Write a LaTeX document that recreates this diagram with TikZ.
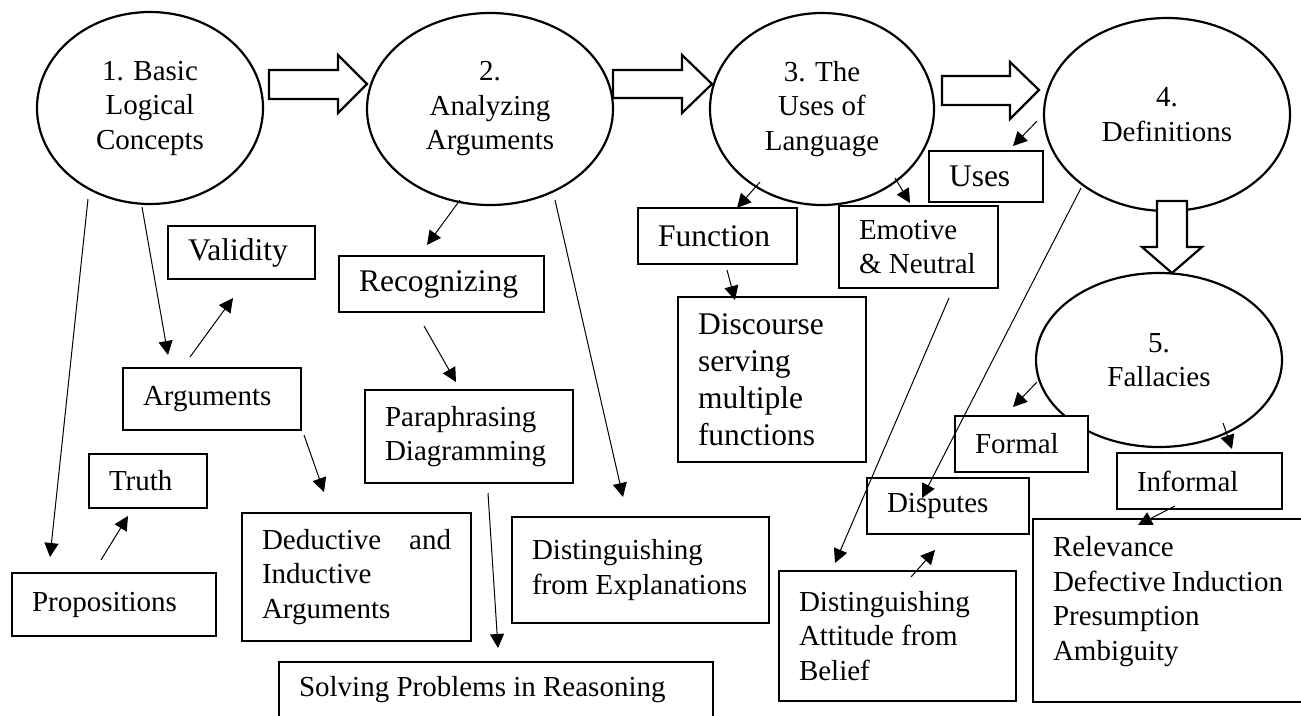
\documentclass[tikz,border=0pt]{standalone}
\usepackage{fontspec}
\setmainfont{Liberation Serif}
\usetikzlibrary{shapes.geometric,arrows.meta}

\begin{document}
\begin{tikzpicture}[x=1pt,y=-1pt,
  txt/.style={font=\fontsize{29}{34.5}\selectfont},
  bigtxt/.style={font=\fontsize{31.5}{37}\selectfont},
  topic/.style={txt, draw, ellipse, line width=2.2pt, fill=white, inner sep=0pt, align=flush center},
  card/.style={txt, draw, rectangle, line width=1.1pt, fill=white, inner xsep=20pt, inner ysep=0pt, align=flush left},
  link/.style={line width=1pt, -{Triangle[length=14pt,width=14pt]}},
  fat/.style={draw, line width=2.2pt, fill=white, line join=miter}
]
\useasboundingbox (0,0) rectangle (1301,715);

% chapter topics
\node[topic, minimum width=226, minimum height=192] (c1) at (150,108) {1. Basic\\Logical\\Concepts};
\node[topic, minimum width=246, minimum height=192] (c2) at (490,109) {2.\\Analyzing\\Arguments};
\node[topic, minimum width=224, minimum height=192] (c3) at (822,109) {3. The\\Uses of\\Language};
\node[topic, minimum width=246, minimum height=193] (c4) at (1167,114.5) {4.\\Definitions};
\node[topic, minimum width=246, minimum height=174] (c5) at (1159,360) {5.\\Fallacies};

% hollow arrows leading from one topic to the next
\draw[fat] (269,70) -- (338,70) -- (338,55) -- (367,84) -- (338,113) -- (338,99) -- (269,99) -- cycle;
\draw[fat] (613,70) -- (682,70) -- (682,55) -- (712,84) -- (682,113) -- (682,98) -- (613,98) -- cycle;
\draw[fat] (942,76) -- (1010,76) -- (1010,62) -- (1039,90) -- (1010,119) -- (1010,105) -- (942,105) -- cycle;
\draw[fat] (1157,201) -- (1157,247) -- (1142,247) -- (1172,273) -- (1202,247) -- (1187,247) -- (1187,201) -- cycle;

% sub-topic boxes
\node[card, bigtxt, text width=107, minimum height=53] (val) at (241.5,252.5) {Validity};
\node[card, bigtxt, text width=165, minimum height=56] (rec) at (441.5,284) {Recognizing};
\node[card, bigtxt, text width=119, minimum height=56] (fun) at (717.5,236) {Function};
\node[card, text width=119, minimum height=82] (emo) at (918.5,247) {Emotive\\\&~Neutral};
\node[card, bigtxt, text width=74, minimum height=51] (uses) at (986,176.5) {Uses};
\node[card, bigtxt, text width=148, minimum height=165] (disc) at (772,379.5) {Discourse\\serving\\multiple\\functions};
\node[card, text width=138, minimum height=62] (args) at (212,399) {Arguments};
\node[card, text width=78, minimum height=54] (truth) at (148,481) {Truth};
\node[card, text width=164, minimum height=63] (prop) at (114,604.5) {Propositions};
\node[card, text width=168, minimum height=93] (para) at (469,436.5) {Paraphrasing\\Diagramming};
\node[card, text width=189, minimum height=128] (ded) at (356.5,577) {Deductive\hskip 0pt plus 1filll and\\Inductive\\Arguments};
\node[card, text width=394, minimum height=56] (solve) at (496,690) {Solving~Problems~in~Reasoning};
\node[card, text width=217, minimum height=106] (dexp) at (640.5,570) {Distinguishing\\from~Explanations};
\node[card, text width=197, minimum height=130] (datt) at (897.5,636) {Distinguishing\\Attitude~from\\Belief};
\node[card, text width=122, minimum height=56] (disp) at (948,506) {Disputes};
\node[card, text width=93, minimum height=56] (form) at (1021.5,444) {Formal};
\node[card, text width=125, minimum height=56] (inf) at (1199.5,481) {Informal};
\node[card, text width=230, minimum height=183] (rel) at (1168,610.5) {Relevance\\Defective~Induction\\Presumption\\Ambiguity\\[-10pt]\mbox{}};

% connectors
\draw[link] ([shift={(-62,91)}]c1.center) -- ([shift={(-64,-47.5)}]prop.center);
\draw[link] ([shift={(-8,99)}]c1.center) -- ([shift={(-44,-44)}]args.center);
\draw[link] ([shift={(-22,-42)}]args.center) -- ([shift={(-8.5,45.5)}]val.center);
\draw[link] ([shift={(-13,-44.5)}]prop.center) -- ([shift={(-20,35)}]truth.center);
\draw[link] ([shift={(92,36)}]args.center) -- ([shift={(-32.5,-85)}]ded.center);
\draw[link] ([shift={(-30,91)}]c2.center) -- ([shift={(-14.5,-39)}]rec.center);
\draw[link] ([shift={(-17.5,42)}]rec.center) -- ([shift={(-13,-54.5)}]para.center);
\draw[link] ([shift={(19,56.5)}]para.center) -- ([shift={(2,-42)}]solve.center);
\draw[link] ([shift={(65,91)}]c2.center) -- ([shift={(-17.5,-73)}]dexp.center);
\draw[link] ([shift={(-62,73)}]c3.center) -- ([shift={(19.5,-28)}]fun.center);
\draw[link] ([shift={(73,69)}]c3.center) -- ([shift={(-8.5,-44)}]emo.center);
\draw[link] ([shift={(9.5,34)}]fun.center) -- ([shift={(-37,-79.5)}]disc.center);
\draw[link] ([shift={(-130,6.5)}]c4.center) -- ([shift={(27,-30.5)}]uses.center);
\draw[link] ([shift={(30.5,51)}]emo.center) -- ([shift={(-62.5,-73)}]datt.center);
\draw[link] ([shift={(-86,73.5)}]c4.center) -- ([shift={(-26,-8)}]disp.center);
\draw[link] ([shift={(13.5,-59)}]datt.center) -- ([shift={(-13,44)}]disp.center);
\draw[link] ([shift={(-122,22)}]c5.center) -- ([shift={(-8.5,-37)}]form.center);
\draw[link] ([shift={(64,63)}]c5.center) -- ([shift={(32.5,-32)}]inf.center);
\draw[link] ([shift={(-24.5,25)}]inf.center) -- ([shift={(-30,-85.5)}]rel.center);
\end{tikzpicture}
\end{document}
